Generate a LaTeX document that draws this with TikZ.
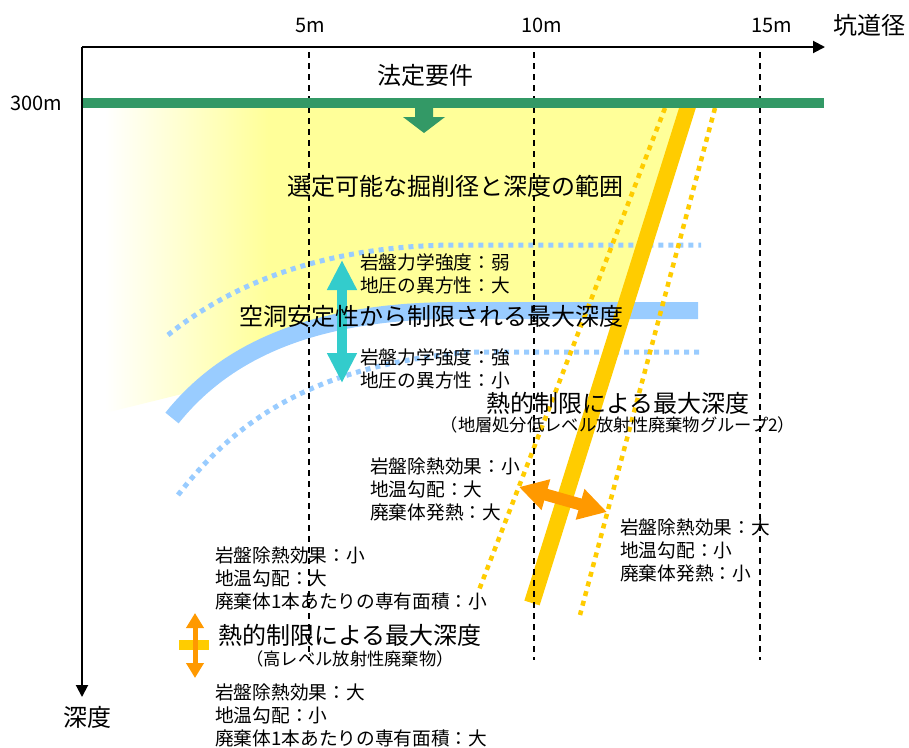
\documentclass[tikz,border=0pt]{standalone}
\usepackage{fontspec}
\setmainfont{Noto Sans CJK JP}
\usetikzlibrary{arrows.meta}
\definecolor{grn}{HTML}{339966}
\definecolor{yfill}{HTML}{FFFF99}
\definecolor{ylw}{HTML}{FFCC00}
\definecolor{blu}{HTML}{99CCFF}
\definecolor{teal2}{HTML}{33CCCC}
\definecolor{orng}{HTML}{FF9900}
\begin{document}
\begin{tikzpicture}[x=1pt,y=-1pt,
  big/.style={font=\fontsize{24}{28}\selectfont, inner sep=0pt},
  mid/.style={font=\fontsize{18.7}{23}\selectfont, inner sep=0pt, align=left, anchor=west},
  sml/.style={font=\fontsize{17.3}{20}\selectfont, inner sep=0pt},
  num/.style={font=\fontsize{20}{24}\selectfont, inner sep=0pt},
  grid/.style={line width=1.5pt, dash pattern=on 6pt off 5pt},
  axisline/.style={line width=2pt, -{Triangle[length=12pt,width=12pt]}},
  bdots/.style={blu, line width=5pt, dash pattern=on 5pt off 5pt},
  ydots/.style={ylw, line width=4.5pt, dash pattern=on 5pt off 5pt},
  blockarr/.style={line width=#1}]
\useasboundingbox (0,0) rectangle (909,747);
% coordinates
\coordinate (O) at (82,47);
\coordinate (xend) at (825,47);
\coordinate (yend) at (82,697);
% yellow selectable region
\begin{scope}
\clip (85,108) -- (689,108) -- (623.5,311) -- (450,311)
  .. controls (331,311.85) and (251.7,340.85) .. (198.2,390) -- (85,418) -- cycle;
\shade[left color=white, right color=yfill] (105,100) rectangle (268,430);
\fill[yfill] (267.5,100) rectangle (700,430);
\end{scope}
% blue band (cavity stability)
\draw[blu, line width=17pt] (172,418) .. controls (225,352) and (310,312) .. (450,310.5) -- (698,310.5);
\draw[bdots] (168,335) .. controls (230,285) and (320,247) .. (450,245) -- (701,245);
\draw[bdots] (178,495) .. controls (240,415) and (320,365) .. (470,352) -- (701,352);
% thermal limit line
\draw[ylw, line width=16pt] (689,103) -- (532,603);
\draw[ydots] (665,108) -- (479,590);
\draw[ydots] (715,108) -- (580,615);
% grid lines
\draw[grid] (309,52) -- (309,660);
\draw[grid] (534,52) -- (534,660);
\draw[grid] (760,52) -- (760,660);
% legal requirement
\draw[grn, line width=10pt] (83,103) -- (824,103);
\fill[grn] (415,107) -- (415,117) -- (403,117) -- (424,133) -- (445,117) -- (433,117) -- (433,107) -- cycle;
% axes
\draw[axisline] (O) -- (xend);
\draw[axisline] (O) -- (yend);
% arrows
\coordinate (ta) at (342,260);
\coordinate (tb) at (342,383);
\draw[teal2, line width=10pt, {Triangle[length=30pt,width=28pt]}-{Triangle[length=30pt,width=28pt]}] (ta) -- (tb);
\coordinate (oa) at (519,487);
\coordinate (ob) at (607,512);
\draw[orng, line width=12pt, {Triangle[length=28pt,width=30pt]}-{Triangle[length=28pt,width=30pt]}] (oa) -- (ob);
\fill[ylw] (179,640) rectangle (209,650);
\coordinate (la) at (195,613);
\coordinate (lb) at (195,678);
\draw[orng, line width=5pt, {Triangle[length=15pt,width=17pt]}-{Triangle[length=15pt,width=17pt]}] (la) -- (lb);
% axis labels
\node[num] (t5) at (310,25) {5m};
\node[num] (t10) at (542,25) {10m};
\node[num] (t15) at (772,25) {15m};
\node[big] (xl) at (869,25) {坑道径};
\node[num] (d300) at (36,103) {300m};
\node[big] (yl) at (87,717) {深度};
% texts
\node[big] (hotei) at (425,75) {法定要件};
\node[big] (sentei) at (455,186) {選定可能な掘削径と深度の範囲};
\node[big] (kudo) at (431.5,316) {空洞安定性から制限される最大深度};
\node[mid] (weak) at (360,274) {岩盤力学強度：弱\\地圧の異方性：大};
\node[mid] (strong) at (360,368.5) {岩盤力学強度：強\\地圧の異方性：小};
\node[big] (netsu1) at (618,403) {熱的制限による最大深度};
\node[sml] (g2) at (618,425) {（地層処分低レベル放射性廃棄物グループ2）};
\node[mid] (g2a) at (370,489) {岩盤除熱効果：小\\地温勾配：大\\廃棄体発熱：大};
\node[mid] (g2b) at (620,550) {岩盤除熱効果：大\\地温勾配：小\\廃棄体発熱：小};
\node[mid] (hla) at (215,578) {岩盤除熱効果：小\\地温勾配：大\\廃棄体1本あたりの専有面積：小};
\node[big] (netsu2) at (350,635) {熱的制限による最大深度};
\node[sml] (hlw) at (350,659) {（高レベル放射性廃棄物）};
\node[mid] (hlb) at (215,715) {岩盤除熱効果：大\\地温勾配：小\\廃棄体1本あたりの専有面積：大};
\end{tikzpicture}
\end{document}
